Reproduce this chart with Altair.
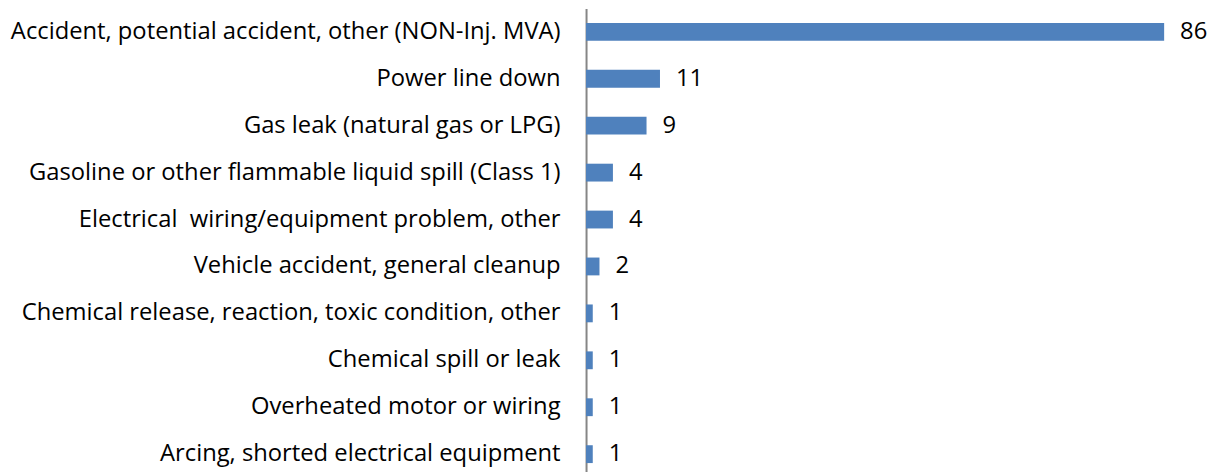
import altair as alt
import pandas as pd

categories = [
    "Accident, potential accident, other (NON-Inj. MVA)",
    "Power line down",
    "Gas leak (natural gas or LPG)",
    "Gasoline or other flammable liquid spill (Class 1)",
    "Electrical\u00a0 wiring/equipment problem, other",
    "Vehicle accident, general cleanup",
    "Chemical release, reaction, toxic condition, other",
    "Chemical spill or leak",
    "Overheated motor or wiring",
    "Arcing, shorted electrical equipment",
]
values = [86, 11, 9, 4, 4, 2, 1, 1, 1, 1]

df = pd.DataFrame({"category": categories, "value": values})

FONT = "Open Sans"
FS = 23.8
xs = alt.Scale(domain=[0, 90], nice=False)
ys = alt.Y("category:N", sort=categories, title=None,
           scale=alt.Scale(paddingInner=0.62, paddingOuter=0.31),
           axis=alt.Axis(labelFont=FONT, labelFontSize=FS, labelColor="#000000",
                         labelPadding=26, ticks=False, domainColor="#868686",
                         domainWidth=2, labelLimit=700))

bars = alt.Chart(df).mark_bar(color="#4F81BD").encode(
    x=alt.X("value:Q", scale=xs, axis=None),
    y=ys,
)
text = alt.Chart(df).mark_text(align="left", dx=16, font=FONT, fontSize=FS,
                               color="#000000").encode(
    x=alt.X("value:Q", scale=xs, axis=None),
    y=alt.Y("category:N", sort=categories),
    text="value:Q",
)

chart = (bars + text).properties(
    width=606, height=470,
    autosize=alt.AutoSizeParams(type="none"),
    padding={"left": 579, "top": 0, "right": 20, "bottom": 0},
).configure_view(stroke=None)

chart.save("out.html", embed_options={"renderer": "svg", "actions": False})
